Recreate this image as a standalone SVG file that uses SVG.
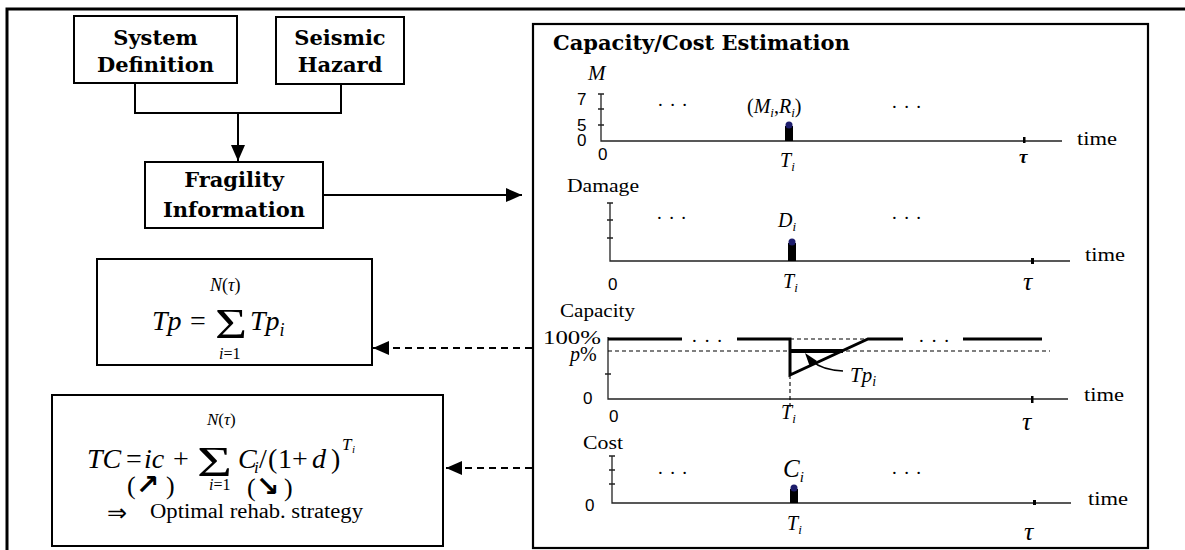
<svg xmlns="http://www.w3.org/2000/svg" width="1185" height="550" viewBox="0 0 1185 550">
  <style>
    .box { fill: #fff; stroke: #000; stroke-width: 2; }
    .head { font-family: "DejaVu Serif", serif; font-weight: bold; font-size: 21px; fill: #000; }
    .mid { text-anchor: middle; }
    .lbl { font-family: "Liberation Serif", "Times New Roman", serif; fill: #000; }
    .it { font-style: italic; }
    .num { font-family: "Liberation Sans", Arial, sans-serif; font-size: 17px; fill: #000; }
    .sym { font-family: "DejaVu Sans", sans-serif; fill: #000; }
    .axis { stroke: #222; stroke-width: 1.3; fill: none; }
    .thick { stroke: #000; stroke-width: 3; fill: none; }
    .dash { stroke: #000; stroke-width: 1.1; stroke-dasharray: 4 3; fill: none; }
    .conn { stroke: #000; stroke-width: 2; fill: none; }
    .conn-dash { stroke: #000; stroke-width: 2; stroke-dasharray: 7 5; fill: none; }
    .bar { fill: #000; }
    .dot { fill: #1c1c6b; }
  </style>
  <defs>
    <marker id="arrow" markerUnits="userSpaceOnUse" markerWidth="16" markerHeight="14" refX="16" refY="7" orient="auto">
      <path d="M0,0 L16,7 L0,14 Z" fill="#000"/>
    </marker>
  </defs>

  <!-- outer frame -->
  <path d="M7,550 V9 H1185" fill="none" stroke="#000" stroke-width="3"/>

  <g id="system-definition">
    <rect class="box" x="74" y="16" width="163" height="67"/>
    <text class="head mid" x="155.5" y="45">System</text>
    <text class="head mid" x="155.5" y="72">Definition</text>
  </g>

  <g id="seismic-hazard">
    <rect class="box" x="276" y="17" width="128" height="67"/>
    <text class="head mid" x="340" y="45">Seismic</text>
    <text class="head mid" x="340" y="72">Hazard</text>
  </g>

  <g id="fragility-information">
    <rect class="box" x="145" y="162" width="178" height="66"/>
    <text class="head mid" x="234" y="187">Fragility</text>
    <text class="head mid" x="234" y="217">Information</text>
  </g>

  <g id="total-performance">
    <rect class="box" x="97" y="259" width="275" height="106"/>
    <text class="lbl" font-size="28"><tspan class="it" x="152" y="330">Tp</tspan><tspan x="190" y="330">=</tspan></text>
    <text class="lbl" x="215" y="338" font-size="42" textLength="32" lengthAdjust="spacingAndGlyphs">Σ</text>
    <text class="lbl" font-size="18" x="210" y="291"><tspan class="it">N</tspan>(<tspan class="it">τ</tspan>)</text>
    <text class="lbl" font-size="16" x="219" y="359"><tspan class="it">i</tspan>=1</text>
    <text class="lbl" font-size="28" x="250" y="330"><tspan class="it">Tp</tspan><tspan class="it" font-size="18" dy="6">i</tspan></text>
  </g>

  <g id="total-cost">
    <rect class="box" x="52" y="395" width="391" height="151"/>
    <text class="lbl" font-size="28"><tspan class="it" x="87" y="468">TC</tspan><tspan x="126" y="468">=</tspan><tspan class="it" x="144" y="468">ic</tspan><tspan x="173" y="468">+</tspan></text>
    <text class="lbl" x="197" y="476" font-size="42" textLength="35" lengthAdjust="spacingAndGlyphs">Σ</text>
    <text class="lbl" font-size="17" x="207" y="425"><tspan class="it">N</tspan>(<tspan class="it">τ</tspan>)</text>
    <text class="lbl" font-size="16" x="209" y="490"><tspan class="it">i</tspan>=1</text>
    <text class="lbl" font-size="28"><tspan class="it" x="238" y="468">C</tspan><tspan class="it" font-size="17" x="254" y="473">i</tspan><tspan x="259" y="468">/</tspan><tspan x="268" y="468">(</tspan><tspan x="278" y="468">1</tspan><tspan x="292" y="468">+</tspan><tspan class="it" x="312" y="468">d</tspan><tspan x="331" y="468">)</tspan></text>
    <text class="lbl" font-size="17"><tspan class="it" x="342" y="450">T</tspan><tspan class="it" font-size="11" x="352" y="453">i</tspan></text>
    <text class="lbl" font-size="26" x="127" y="494">(</text>
    <text class="sym" font-weight="bold" font-size="28" x="136" y="494">↗</text>
    <text class="lbl" font-size="26" x="166" y="494">)</text>
    <text class="lbl" font-size="26" x="247" y="496">(</text>
    <text class="sym" font-weight="bold" font-size="28" x="256" y="496">↘</text>
    <text class="lbl" font-size="26" x="284" y="496">)</text>
    <text class="sym" font-size="24" x="107" y="521">⇒</text>
    <text class="lbl" font-size="20" x="150" y="518" textLength="213" lengthAdjust="spacingAndGlyphs">Optimal rehab. strategy</text>
  </g>

  <g id="capacity-cost-estimation">
    <rect x="533" y="24" width="615" height="524" fill="#fff" stroke="#000" stroke-width="2.2"/>
    <text class="head" x="553" y="50">Capacity/Cost Estimation</text>

    <!-- magnitude history -->
    <g id="plot-magnitude">
      <path class="axis" d="M601,94 V141 H1062 M598,94 H604 M598,109 H604 M598,125 H604"/>
      <rect class="bar" x="785" y="126" width="8" height="15"/>
      <circle class="dot" cx="789" cy="125" r="3.5"/>
      <rect class="bar" x="1023" y="137" width="2.5" height="6"/>
      <text class="lbl it" font-size="21" x="588" y="80">M</text>
      <text class="num" x="577" y="105">7</text>
      <text class="num" x="577" y="131">5</text>
      <text class="num" x="577" y="146">0</text>
      <text class="num" x="598" y="160">0</text>
      <text class="lbl" font-size="20" x="747" y="113">(<tspan class="it">M</tspan><tspan class="it" font-size="13" dy="4">i</tspan><tspan dy="-4">,</tspan><tspan class="it">R</tspan><tspan class="it" font-size="13" dy="4">i</tspan><tspan dy="-4">)</tspan></text>
      <text class="lbl" font-size="19" x="658" y="106" textLength="29" lengthAdjust="spacing">. . .</text>
      <text class="lbl" font-size="19" x="892" y="108" textLength="29" lengthAdjust="spacing">. . .</text>
      <text class="lbl" x="780" y="167"><tspan class="it" font-size="20">T</tspan><tspan class="it" font-size="13" dy="4">i</tspan></text>
      <text class="lbl" font-size="19" x="1077" y="145" textLength="40" lengthAdjust="spacingAndGlyphs">time</text>
      <text class="lbl it" font-size="19" font-weight="bold" x="1019" y="163">τ</text>
    </g>

    <!-- damage history -->
    <g id="plot-damage">
      <path class="axis" d="M610,203 V261 H1070 M607,203 H613 M607,220 H613 M607,238 H613"/>
      <rect class="bar" x="788" y="243" width="8" height="18"/>
      <circle class="dot" cx="792" cy="242" r="3.5"/>
      <rect class="bar" x="1031" y="258" width="3" height="6"/>
      <text class="lbl" font-size="19" x="567" y="192" textLength="72" lengthAdjust="spacingAndGlyphs">Damage</text>
      <text class="lbl" font-size="20" x="778" y="227"><tspan class="it">D</tspan><tspan class="it" font-size="13" dy="4">i</tspan></text>
      <text class="lbl" font-size="19" x="657" y="219" textLength="29" lengthAdjust="spacing">. . .</text>
      <text class="lbl" font-size="19" x="892" y="219" textLength="29" lengthAdjust="spacing">. . .</text>
      <text class="num" x="608" y="290">0</text>
      <text class="lbl" x="783" y="288"><tspan class="it" font-size="20">T</tspan><tspan class="it" font-size="13" dy="4">i</tspan></text>
      <text class="lbl" font-size="19" x="1085" y="261" textLength="40" lengthAdjust="spacingAndGlyphs">time</text>
      <text class="lbl it" font-size="26" x="1023" y="290">τ</text>
    </g>

    <!-- capacity history -->
    <g id="plot-capacity">
      <path class="axis" d="M608,337 V399 H1068 M605,374 H611"/>
      <path class="dash" d="M608,351 H1050 M790,339 H868 M790,375 V410"/>
      <path class="thick" d="M608,339 H682 M737,339 H790 V375 L868,339 H903 M963,339 H1042"/>
      <path d="M790,351 H843" stroke="#000" stroke-width="4"/>
      <text class="lbl" font-size="19" x="692" y="342" textLength="30" lengthAdjust="spacing">. . .</text>
      <text class="lbl" font-size="19" x="919" y="342" textLength="30" lengthAdjust="spacing">. . .</text>
      <path d="M843,371 Q822,370 812,361" fill="none" stroke="#000" stroke-width="1.6"/>
      <polygon points="805,353 817,361 810,367" fill="#000"/>
      <rect class="bar" x="1031" y="396" width="2.5" height="7"/>
      <text class="lbl" font-size="19" x="560" y="317" textLength="75" lengthAdjust="spacingAndGlyphs">Capacity</text>
      <text class="lbl" font-size="19" x="543" y="344" textLength="58" lengthAdjust="spacingAndGlyphs">100%</text>
      <text class="lbl" font-size="20" x="570" y="361"><tspan class="it">p</tspan>%</text>
      <text class="num" x="583" y="404">0</text>
      <text class="num" x="609" y="422">0</text>
      <text class="lbl" x="781" y="419"><tspan class="it" font-size="20">T</tspan><tspan class="it" font-size="13" dy="4">i</tspan></text>
      <text class="lbl" font-size="21" x="850" y="382"><tspan class="it">Tp</tspan><tspan class="it" font-size="14" dy="4">i</tspan></text>
      <text class="lbl" font-size="19" x="1084" y="401" textLength="40" lengthAdjust="spacingAndGlyphs">time</text>
      <text class="lbl it" font-size="26" x="1022" y="430">τ</text>
    </g>

    <!-- cost history -->
    <g id="plot-cost">
      <path class="axis" d="M612,456 V503 H1071 M609,456 H615 M609,470 H615 M609,484 H615"/>
      <rect class="bar" x="790" y="489" width="8" height="14"/>
      <circle class="dot" cx="794" cy="488" r="3.5"/>
      <rect class="bar" x="1033" y="500" width="3" height="5"/>
      <text class="lbl" font-size="19" x="583" y="449" textLength="40" lengthAdjust="spacingAndGlyphs">Cost</text>
      <text class="num" x="585" y="511">0</text>
      <text class="lbl" font-size="25" x="783" y="477"><tspan class="it">C</tspan><tspan class="it" font-size="15" dy="5">i</tspan></text>
      <text class="lbl" font-size="19" x="658" y="474" textLength="29" lengthAdjust="spacing">. . .</text>
      <text class="lbl" font-size="19" x="892" y="474" textLength="29" lengthAdjust="spacing">. . .</text>
      <text class="lbl" x="787" y="530"><tspan class="it" font-size="20">T</tspan><tspan class="it" font-size="13" dy="4">i</tspan></text>
      <text class="lbl" font-size="19" x="1088" y="505" textLength="40" lengthAdjust="spacingAndGlyphs">time</text>
      <text class="lbl it" font-size="26" x="1024" y="540">τ</text>
    </g>
  </g>

  <g id="connectors">
    <path class="conn" d="M135,84 V113 H341 V85"/>
    <line class="conn" x1="238" y1="113" x2="238" y2="161" marker-end="url(#arrow)"/>
    <line class="conn" x1="323" y1="195" x2="522" y2="195" marker-end="url(#arrow)"/>
    <line class="conn-dash" x1="532" y1="348" x2="373" y2="348" marker-end="url(#arrow)"/>
    <line class="conn-dash" x1="532" y1="468" x2="446" y2="468" marker-end="url(#arrow)"/>
  </g>
</svg>
